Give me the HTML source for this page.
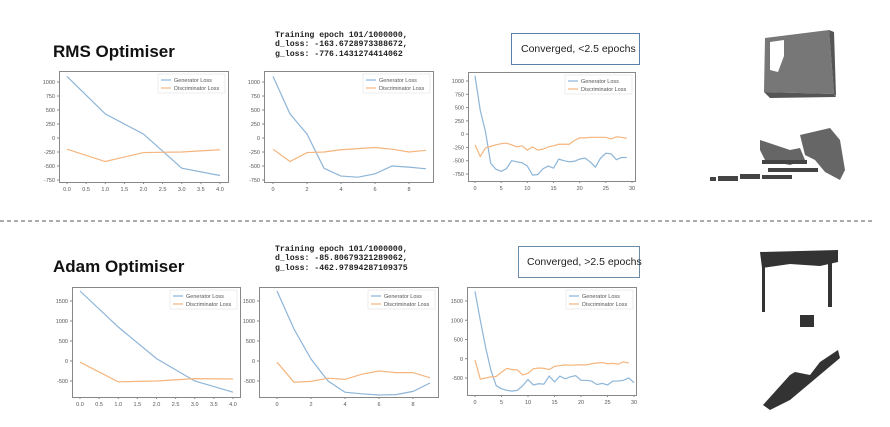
<!DOCTYPE html>
<html><head><meta charset="utf-8"><style>
html,body{margin:0;padding:0;background:#fff;}
svg{display:block;font-family:"Liberation Sans",sans-serif;}
</style></head><body>
<svg id="s" width="890" height="427" viewBox="0 0 890 427" xmlns="http://www.w3.org/2000/svg">
<rect width="890" height="427" fill="#fff"/>
<text x="53" y="57" font-size="17" font-weight="bold" fill="#111">RMS Optimiser</text>
<text x="53" y="272" font-size="17" font-weight="bold" fill="#111">Adam Optimiser</text>
<g font-family="Liberation Mono, monospace" font-size="8.2" font-weight="bold" fill="#222">
<text x="275" y="37">Training epoch 101/1000000,</text>
<text x="275" y="46">d_loss: -163.6728973388672,</text>
<text x="275" y="56">g_loss: -776.1431274414062</text>
<text x="275" y="31" dy="220">Training epoch 101/1000000,</text>
<text x="275" y="40" dy="220">d_loss: -85.80679321289062,</text>
<text x="275" y="50" dy="220">g_loss: -462.97894287109375</text>
</g>
<rect x="511.5" y="33.5" width="128" height="31" fill="#fff" stroke="#5a7fa8" stroke-width="1"/>
<text x="521" y="52" font-size="10.5" fill="#222">Converged, &lt;2.5 epochs</text>
<rect x="518.5" y="246.5" width="121" height="31" fill="#fff" stroke="#6a8aa8" stroke-width="1"/>
<text x="527" y="265" font-size="10.5" fill="#222">Converged, &gt;2.5 epochs</text>
<line x1="0" y1="221" x2="873" y2="221" stroke="#555" stroke-width="1" stroke-dasharray="4,3"/>
<polygon points="765,38 829,30 834,94 764,92" fill="#777"/>
<polygon points="829,30 834,32 836,96 834,94" fill="#555"/>
<polygon points="764,92 834,94 836,97 770,98" fill="#555"/>
<polygon points="770,42 784,40 784,56 778,72 770,70" fill="#fff"/>
<g fill="#666">
<polygon points="760,140 790,150 800,148 805,160 790,165 765,160 760,150"/>
<polygon points="800,135 830,128 840,140 845,170 840,180 825,172 815,160 805,155"/>
<rect x="762" y="160" width="45" height="4" fill="#444"/>
<rect x="768" y="168" width="50" height="4" fill="#444"/>
<rect x="762" y="175" width="30" height="4" fill="#444"/>
<rect x="740" y="174" width="20" height="5" fill="#444"/>
<rect x="718" y="176" width="20" height="5" fill="#444"/>
<rect x="710" y="177" width="6" height="4" fill="#444"/>
</g>
<g fill="#333">
<polygon points="760,252 838,250 838,262 820,266 790,264 762,268"/>
<rect x="762" y="262" width="3" height="50"/>
<rect x="828" y="262" width="4" height="45"/>
<rect x="800" y="315" width="14" height="12"/>
<polygon points="763,405 790,375 795,372 810,375 820,362 838,350 840,358 790,400 770,410"/>
</g>
<g id="charts"></g>
</svg>
<script>
const NS="http://www.w3.org/2000/svg";
const G=document.getElementById('charts');
function el(t,a,txt){const e=document.createElementNS(NS,t);for(const k in a)e.setAttribute(k,a[k]);if(txt!==undefined)e.textContent=txt;G.appendChild(e);return e;}
function chart(c){
 el('rect',{x:c.x0+.5,y:c.y0+.5,width:c.x1-c.x0,height:c.y1-c.y0,fill:'#fff',stroke:'#888','stroke-width':1});
 const X=v=>c.xa+(v-c.xv0)*(c.xb-c.xa)/(c.xv1-c.xv0);
 const Y=v=>c.ya+(v-c.yv0)*(c.yb-c.ya)/(c.yv1-c.yv0);
 c.xt.forEach(v=>{const x=X(v);el('line',{x1:x,y1:c.y1,x2:x,y2:c.y1+2,stroke:'#888'});el('text',{x:x,y:c.y1+9,'font-size':5.5,fill:'#555','text-anchor':'middle'},c.xf?c.xf(v):v);});
 c.yt.forEach(v=>{const y=Y(v);el('line',{x1:c.x0-2,y1:y,x2:c.x0,y2:y,stroke:'#888'});el('text',{x:c.x0-4,y:y+2,'font-size':5.5,fill:'#555','text-anchor':'end'},v);});
 const pl=(d,col)=>el('polyline',{points:d.map((v,i)=>X(i*(c.step||1))+','+Y(v)).join(' '),fill:'none',stroke:col,'stroke-width':1.2});
 pl(c.g,'#8db5d8');pl(c.d,'#f5b57e');
 const lx=c.x1-70,ly=c.y0+3;
 el('rect',{x:lx,y:ly,width:67,height:19,fill:'#fff',stroke:'#ddd','stroke-width':.5});
 el('line',{x1:lx+3,y1:ly+6,x2:lx+13,y2:ly+6,stroke:'#8db5d8','stroke-width':1.2});
 el('line',{x1:lx+3,y1:ly+14,x2:lx+13,y2:ly+14,stroke:'#f5b57e','stroke-width':1.2});
 el('text',{x:lx+16,y:ly+8,'font-size':5.5,fill:'#555'},'Generator Loss');
 el('text',{x:lx+16,y:ly+16,'font-size':5.5,fill:'#555'},'Discriminator Loss');
}
const yT1=[1000,750,500,250,0,-250,-500,-750], yT2=[1500,1000,500,0,-500];
const f1=v=>v.toFixed(1);
chart({x0:59,x1:228,y0:71,y1:182,xa:67,xb:220,xv0:0,xv1:4,xt:[0,.5,1,1.5,2,2.5,3,3.5,4],xf:f1,ya:82,yb:180,yv0:1000,yv1:-750,yt:yT1,
 g:[1100,430,70,-540,-670],d:[-200,-420,-260,-250,-210]});
chart({x0:264,x1:433,y0:71,y1:182,xa:273,xb:409,xv0:0,xv1:8,xt:[0,2,4,6,8],ya:82,yb:180,yv0:1000,yv1:-750,yt:yT1,
 g:[1100,430,70,-540,-680,-700,-640,-500,-520,-550],d:[-200,-420,-260,-250,-210,-190,-170,-200,-250,-220]});
chart({x0:468,x1:635,y0:72,y1:181,xa:475,xb:632,xv0:0,xv1:30,xt:[0,5,10,15,20,25,30],ya:81,yb:174,yv0:1000,yv1:-750,yt:yT1,
 g:[1100,450,50,-550,-660,-700,-650,-500,-520,-540,-600,-770,-760,-650,-600,-640,-470,-500,-520,-510,-470,-450,-520,-620,-450,-360,-370,-480,-440,-440],
 d:[-200,-420,-260,-230,-200,-180,-170,-200,-240,-220,-300,-240,-300,-280,-240,-220,-190,-190,-190,-120,-70,-70,-60,-60,-60,-60,-90,-50,-60,-80]});
chart({x0:72,x1:240,y0:287,y1:397,xa:80,xb:233,xv0:0,xv1:4,xt:[0,.5,1,1.5,2,2.5,3,3.5,4],xf:f1,ya:301,yb:381,yv0:1500,yv1:-500,yt:yT2,
 g:[1750,850,60,-500,-780],d:[-30,-520,-500,-440,-450]});
chart({x0:259,x1:438,y0:287,y1:397,xa:277,xb:413,xv0:0,xv1:8,xt:[0,2,4,6,8],ya:301,yb:381,yv0:1500,yv1:-500,yt:yT2,
 g:[1750,800,50,-500,-780,-820,-850,-840,-760,-550],d:[-30,-530,-510,-430,-460,-330,-250,-290,-290,-420]});
chart({x0:467,x1:636,y0:287,y1:395,xa:475,xb:634,xv0:0,xv1:30,xt:[0,5,10,15,20,25,30],ya:301,yb:378,yv0:1500,yv1:-500,yt:yT2,
 g:[1750,1000,300,-300,-700,-780,-820,-840,-820,-700,-540,-680,-650,-660,-450,-600,-450,-520,-470,-440,-560,-560,-580,-670,-640,-680,-580,-580,-560,-500,-620],
 d:[-30,-530,-500,-470,-460,-350,-250,-280,-290,-420,-380,-260,-240,-250,-280,-200,-180,-160,-170,-160,-160,-160,-130,-110,-100,-130,-120,-140,-80,-110]});
</script>
</body></html>
